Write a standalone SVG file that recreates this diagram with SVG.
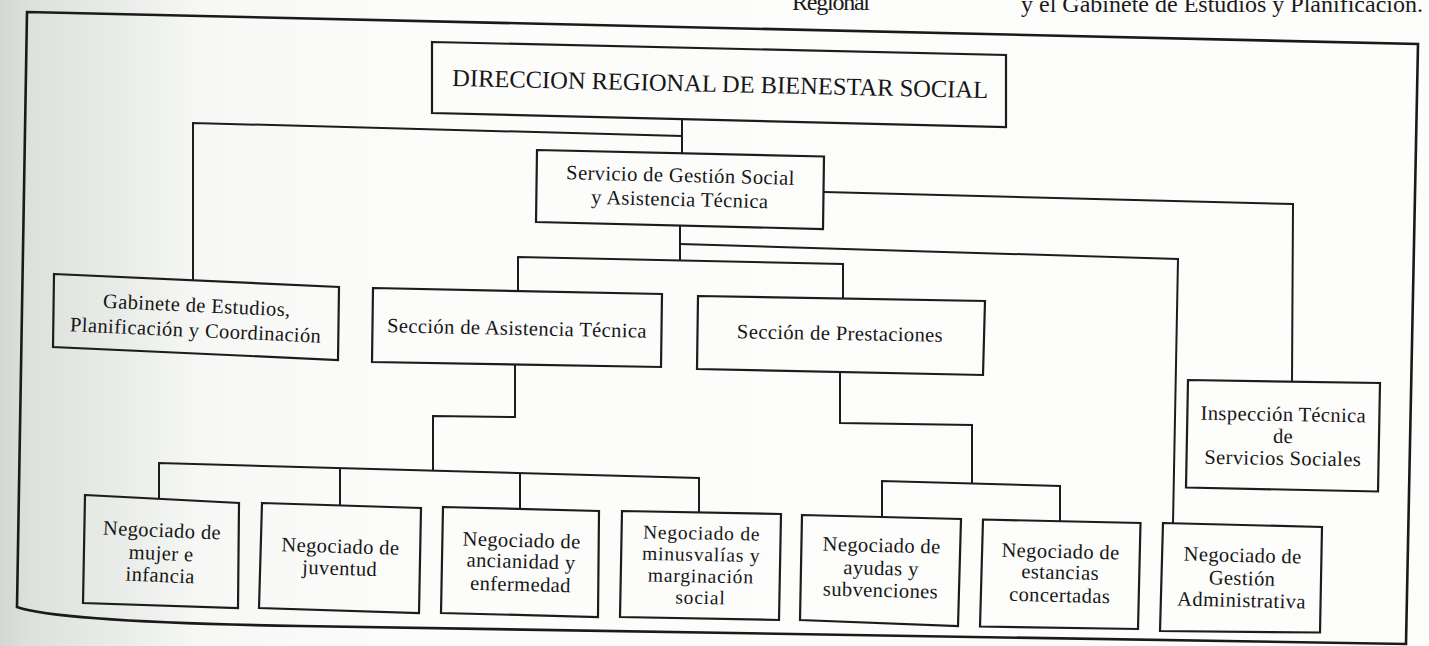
<svg xmlns="http://www.w3.org/2000/svg" width="1429" height="646" viewBox="0 0 1429 646">
<defs>
<linearGradient id="bg" x1="0" y1="0" x2="1429" y2="0" gradientUnits="userSpaceOnUse">
<stop offset="0" stop-color="#d3d8d2"/>
<stop offset="0.02" stop-color="#dde1dc"/>
<stop offset="0.09" stop-color="#eaede9"/>
<stop offset="0.14" stop-color="#f7f8f6"/>
<stop offset="0.3" stop-color="#fcfcfb"/>
<stop offset="1" stop-color="#fdfdfc"/>
</linearGradient>
<style>
.box{fill:none;stroke:#1c1c1c;stroke-width:2.2;stroke-linejoin:miter}
.conn{fill:none;stroke:#1c1c1c;stroke-width:2}
.frame{fill:none;stroke:#1a1a1a;stroke-width:2.6}
.t{font-family:"Liberation Serif","Times New Roman",serif;font-size:20.5px;letter-spacing:0.4px;fill:#161616;text-anchor:middle}
.tight{font-size:19.5px;letter-spacing:0.8px}
.title{font-size:24.5px;letter-spacing:0}
.hdr{font-family:"Liberation Serif","Times New Roman",serif;font-size:24px;fill:#1a1a1a}
</style>
</defs>
<rect width="1429" height="646" fill="url(#bg)"/>
<g id="page-header">
<text class="hdr" x="792" y="10" textLength="78">Regional</text>
<text class="hdr" x="1021" y="12" textLength="402">y el Gabinete de Estudios y Planificación.</text>
</g>
<path id="frame" class="frame" d="M27,12 L1418,44 L1406,644 L300,626 Q60,622 17,607 Z"/>
<g id="connectors">
<polyline class="conn" points="682,119 682,153"/>
<polyline class="conn" points="682,136 193,123 193,280.5"/>
<polyline class="conn" points="824,192 1293,204 1292,381.6"/>
<polyline class="conn" points="680,225.5 680,261"/>
<polyline class="conn" points="680,244 1178,259 1173,523.3"/>
<polyline class="conn" points="518,291 518,257 843,264 843,298.5"/>
<polyline class="conn" points="515,364.5 515,417 433,416 433,470.6"/>
<polyline class="conn" points="159,498.8 159,463 699,478 699,512.5"/>
<polyline class="conn" points="340,468 340,505.5"/>
<polyline class="conn" points="520,473 520,509"/>
<polyline class="conn" points="840,372 840,423 972,425 972,483.5"/>
<polyline class="conn" points="882,517 882,481 1060,486 1060,521.2"/>
</g>
<g id="n-direccion">
<polygon class="box" points="432,42 1006,55 1006,127 432,113"/>
<text class="t title" x="720" y="92" textLength="536" transform="rotate(1.3 720 92)">DIRECCION REGIONAL DE BIENESTAR SOCIAL</text>
</g>
<g id="n-servicio">
<polygon class="box" points="537,150 824,156.5 823,229 536,222"/>
<text class="t" transform="rotate(1.4 680 194)"><tspan x="680" y="182">Servicio de Gestión Social</tspan><tspan x="680" y="206">y Asistencia Técnica</tspan></text>
</g>
<g id="n-gabinete">
<polygon class="box" points="54,274 339,287 338,360 53,347"/>
<text class="t" transform="rotate(2.6 196 324)"><tspan x="196" y="312">Gabinete de Estudios,</tspan><tspan x="196" y="337">Planificación y Coordinación</tspan></text>
</g>
<g id="n-asistencia">
<polygon class="box" points="373,288 662,294 661,367 372,362"/>
<text class="t" x="517" y="335" transform="rotate(1.2 517 330)">Sección de Asistencia Técnica</text>
</g>
<g id="n-prestaciones">
<polygon class="box" points="698,296 985,301 983,375 697,369"/>
<text class="t" x="840" y="340" transform="rotate(1.0 840 335)">Sección de Prestaciones</text>
</g>
<g id="n-inspeccion">
<polygon class="box" points="1188,380 1380,383 1378,491.5 1186,487.5"/>
<text class="t" transform="rotate(0.9 1283 440)"><tspan x="1283" y="421">Inspección Técnica</tspan><tspan x="1283" y="443">de</tspan><tspan x="1283" y="465">Servicios Sociales</tspan></text>
</g>
<g id="n-mujer">
<polygon class="box" points="85,495 239,503 238,608 83,603"/>
<text class="t" transform="rotate(2.4 161 556)"><tspan x="161" y="537">Negociado de</tspan><tspan x="161" y="560">mujer e</tspan><tspan x="161" y="582">infancia</tspan></text>
</g>
<g id="n-juventud">
<polygon class="box" points="262,503 421,508 419,613 259,608"/>
<text class="t" transform="rotate(1.8 340 560)"><tspan x="340" y="553">Negociado de</tspan><tspan x="340" y="575">juventud</tspan></text>
</g>
<g id="n-ancianidad">
<polygon class="box" points="443,507 599,511 598,617 441,613"/>
<text class="t" transform="rotate(1.5 521 565)"><tspan x="521" y="547">Negociado de</tspan><tspan x="521" y="568">ancianidad y</tspan><tspan x="521" y="591">enfermedad</tspan></text>
</g>
<g id="n-minusvalias">
<polygon class="box" points="622,511 781,514 779,620 620,617"/>
<text class="t tight" transform="rotate(1.1 701 570)"><tspan x="701" y="539.5">Negociado de</tspan><tspan x="701" y="561">minusvalías y</tspan><tspan x="701" y="582.5">marginación</tspan><tspan x="701" y="604">social</tspan></text>
</g>
<g id="n-ayudas">
<polygon class="box" points="802,515 961,519 958,626 800,620"/>
<text class="t" transform="rotate(1.4 881 572)"><tspan x="881" y="552">Negociado de</tspan><tspan x="881" y="575">ayudas y</tspan><tspan x="881" y="597">subvenciones</tspan></text>
</g>
<g id="n-estancias">
<polygon class="box" points="983,519.5 1140.5,523 1138,629 980,626.5"/>
<text class="t" transform="rotate(1.3 1060 578)"><tspan x="1060" y="558">Negociado de</tspan><tspan x="1060" y="579">estancias</tspan><tspan x="1060" y="602">concertadas</tspan></text>
</g>
<g id="n-gestion">
<polygon class="box" points="1163,523 1322,527 1320,632.5 1160,631"/>
<text class="t" transform="rotate(1.4 1242 582)"><tspan x="1242" y="562">Negociado de</tspan><tspan x="1242" y="585">Gestión</tspan><tspan x="1242" y="607">Administrativa</tspan></text>
</g>
</svg>
